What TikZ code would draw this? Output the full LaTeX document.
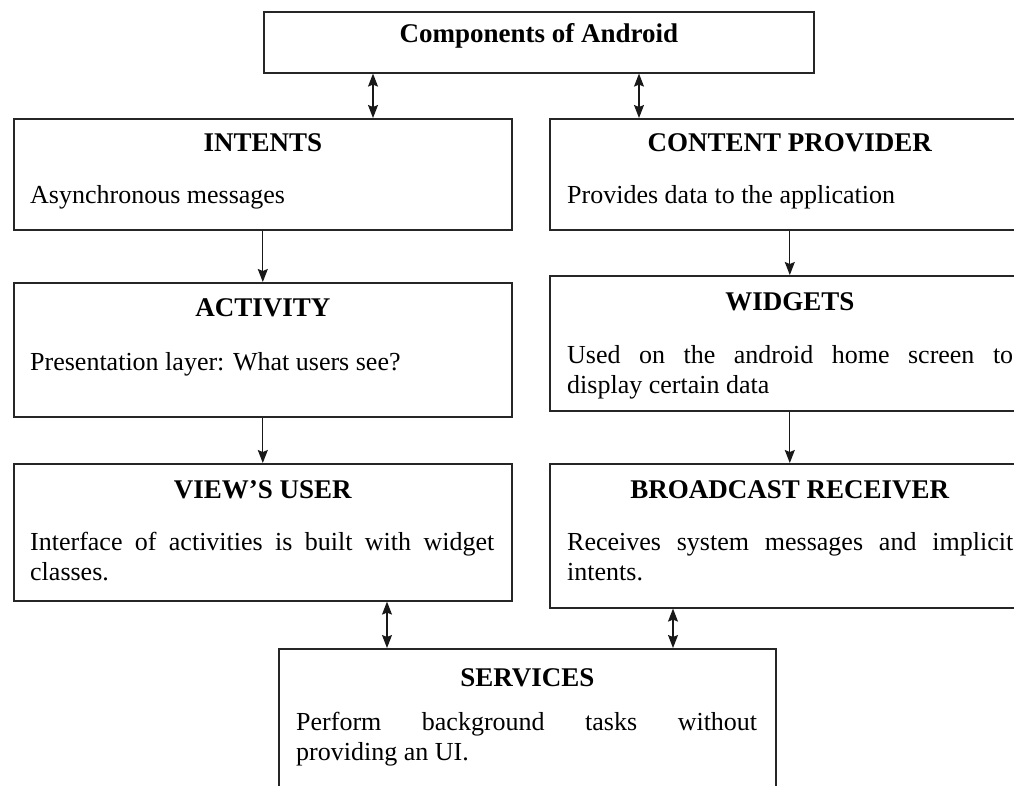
\documentclass[tikz,border=0pt]{standalone}
\usepackage{fontspec}
\setmainfont{Liberation Serif}
\usetikzlibrary{arrows.meta}
\usetikzlibrary{calc}
\usetikzlibrary{positioning}

\begin{document}
\begin{tikzpicture}[x=1pt, y=-1pt]
\tikzset{
  box/.style={draw=black!85, line width=1.6pt, rectangle, anchor=north west, inner sep=0pt, fill=white},
  head/.style={font=\fontsize{27}{30}\selectfont\bfseries, inner sep=0pt},
  body/.style={font=\fontsize{26}{30}\selectfont, anchor=north west, inner sep=0pt, align=justify},
  link/.style={line width=1.2pt, black!90},
  onearrow/.style={link, -{Stealth[length=13pt, width=10pt, inset=2pt]}},
  twoarrow/.style={link, {Stealth[length=13pt, width=10pt, inset=2pt]}-{Stealth[length=13pt, width=10pt, inset=2pt]}},
}

       \useasboundingbox (0,0) rectangle (1014,785);
       \clip (0,0) rectangle (1014,785);
       \fill[white] (0,0) rectangle (1014,785);

       % boxes
       \node[box, minimum width=550, minimum height=61] (comp) at (263,11) {};
       \node[box, minimum width=498, minimum height=111] (intents) at (13,118) {};
       \node[box, minimum width=480, minimum height=111] (provider) at (549,118) {};
       \node[box, minimum width=498, minimum height=134] (activity) at (13,282) {};
       \node[box, minimum width=480, minimum height=135] (widgets) at (549,275) {};
       \node[box, minimum width=498, minimum height=137] (views) at (13,463) {};
       \node[box, minimum width=480, minimum height=144] (receiver) at (549,463) {};
       \node[box, minimum width=497, minimum height=170] (services) at (278,648) {};

       % titles
       \node[head] (comph) at ($(comp.north)+(0,25)$) {Components of Android};
       \node[head] (intentsh) at ($(intents.north)+(0,25)$) {INTENTS};
       \node[head] (providerh) at ($(provider.north)+(0,25)$) {CONTENT PROVIDER};
       \node[head] (activityh) at ($(activity.north)+(0,26)$) {ACTIVITY};
       \node[head] (widgetsh) at ($(widgets.north)+(0,27)$) {WIDGETS};
       \node[head] (viewsh) at ($(views.north)+(0,27)$) {VIEW'S USER};
       \node[head] (receiverh) at ($(receiver.north)+(0,27)$) {BROADCAST RECEIVER};
       \node[head] (servicesh) at ($(services.north)+(0,30)$) {SERVICES};

       % texts
       \node[body, text width=464] (intentsb) at ($(intents.north west)+(17,67)$)
         {Asynchronous messages};
       \node[body, text width=446] (providerb) at ($(provider.north west)+(18,67)$)
         {Provides data to the application};
       \node[body, text width=464] (activityb) at ($(activity.north west)+(17,70)$)
         {Presentation layer: What users see?};
       \node[body, text width=446] (widgetsb) at ($(widgets.north west)+(18,70)$)
         {Used on the android home screen to\linebreak display certain data};
       \node[body, text width=464] (viewsb) at ($(views.north west)+(17,69)$)
         {Interface of activities is built with widget\linebreak classes.};
       \node[body, text width=446] (receiverb) at ($(receiver.north west)+(18,69)$)
         {Receives system messages and implicit\linebreak intents.};
       \node[body, text width=461] (servicesb) at ($(services.north west)+(18,64)$)
         {Perform background tasks without\linebreak providing an UI.};

       % connectors
       \draw[twoarrow] ([xshift=110]comp.south west) -- ([xshift=110]comp.south west |- intents.north);
       \draw[twoarrow] ([xshift=376]comp.south west) -- ([xshift=376]comp.south west |- provider.north);
       \draw[onearrow] (intents) -- (activity);
       \draw[onearrow] (provider) -- (widgets);
       \draw[onearrow] (activity) -- (views);
       \draw[onearrow] (widgets) -- (receiver);
       \draw[twoarrow] ([xshift=109]services.north west |- views.south) -- ([xshift=109]services.north west);
       \draw[twoarrow] ([xshift=395]services.north west |- receiver.south) -- ([xshift=395]services.north west);

\end{tikzpicture}
\end{document}
